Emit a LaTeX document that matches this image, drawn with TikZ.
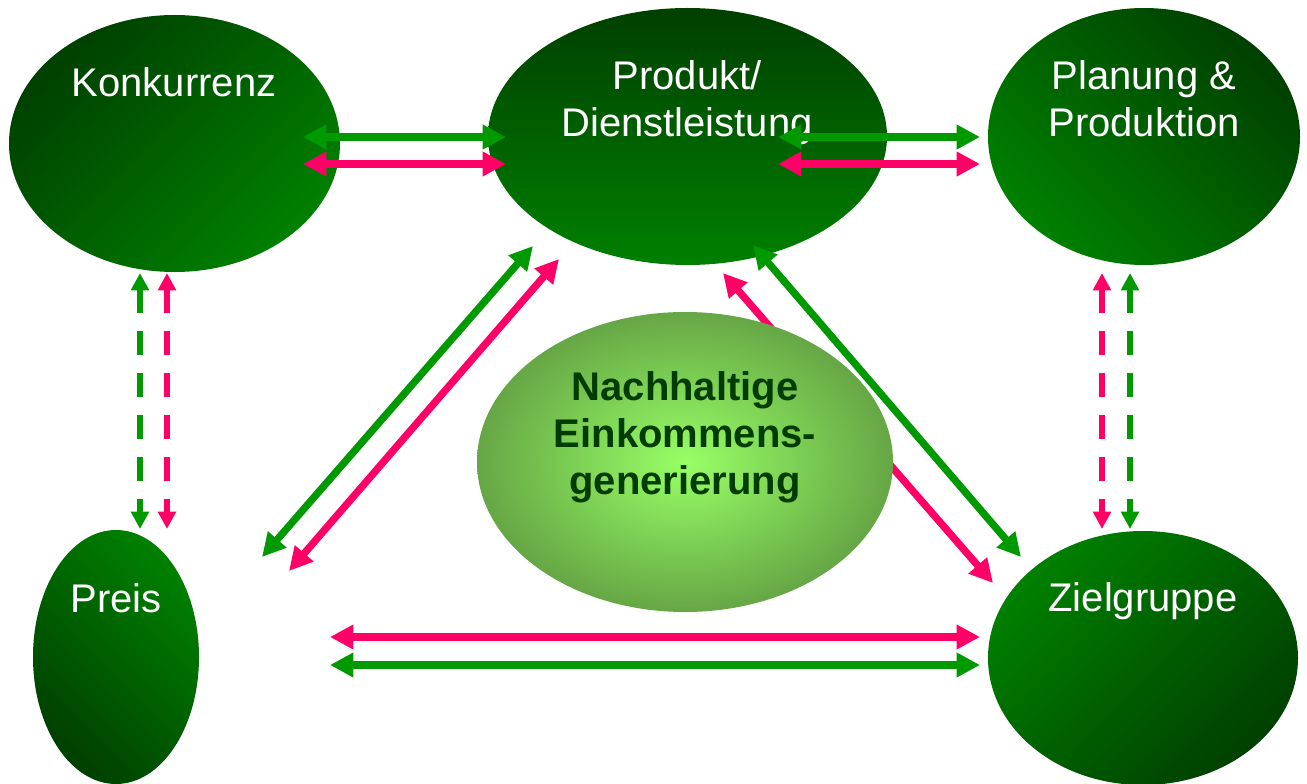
\documentclass[tikz,border=0pt]{standalone}
\usepackage{fontspec}
\setmainfont{Liberation Sans}
\usetikzlibrary{arrows.meta,shapes.geometric}
\definecolor{arrgreen}{RGB}{0,153,0}
\definecolor{arrpink}{RGB}{255,0,102}
\definecolor{darkleaf}{RGB}{0,64,0}
\definecolor{lightleaf}{RGB}{0,128,0}
\definecolor{coreinner}{RGB}{152,255,102}
\definecolor{coreouter}{RGB}{100,163,68}
\definecolor{coretext}{RGB}{0,60,0}
\pgfdeclareradialshading{coreshade}{\pgfpoint{0bp}{0bp}}{color(0bp)=(coreinner); color(26bp)=(coreouter); color(50bp)=(coreouter)}
\tikzset{
  field/.style={ellipse, inner sep=0pt, top color=darkleaf, bottom color=lightleaf},
  lbl/.style={text=white, font=\fontsize{30}{35.25}\selectfont, align=center, anchor=base, inner sep=0pt},
  twoway/.style={line width=5.5pt, {Triangle[width=17.5pt,length=17.5pt]}-{Triangle[width=17.5pt,length=17.5pt]}},
  twowaydash/.style={line width=4.5pt, dash pattern=on 18pt off 13.5pt, {Triangle[width=13pt,length=13pt]}-{Triangle[width=13pt,length=13pt]}}
}
\begin{document}
\begin{tikzpicture}[x=0.75pt,y=-0.75pt]
  \useasboundingbox (0,0) rectangle (1307,784);
  \node[field, minimum width=248.25pt, minimum height=192.75pt, shading angle=45] (konk) at (174.5,143.5) {};
  \node[field, minimum width=299.25pt, minimum height=192.75pt] (prod) at (687.5,136.5) {};
  \node[field, minimum width=234pt, minimum height=192.75pt, shading angle=-45] (plan) at (1144,136.5) {};
  \node[field, minimum width=124.5pt, minimum height=190.5pt, shading angle=135] (preis) at (116,657) {};
  \node[field, minimum width=232.5pt, minimum height=190.5pt, shading angle=-135] (ziel) at (1143,658) {};
  \node[lbl] (konktxt) at (174,97) {Konkurrenz};
  \node[lbl] (prodtxt) at (687,137) {Produkt/\\Dienstleistung};
  \node[lbl] (plantxt) at (1144,137) {Planung \&\\Produktion};
  \node[lbl] (preistxt) at (116,612) {Preis};
  \node[lbl] (zieltxt) at (1143,611) {Zielgruppe};
  \coordinate (pzp1) at (723,273);
  \coordinate (pzp2) at (993,583);
  \draw[twoway, arrpink] (pzp1) -- (pzp2);
  \node[ellipse, inner sep=0pt, shading=coreshade, minimum width=312pt, minimum height=225pt] (core) at (685,462) {};
  \node[lbl, text=coretext, font=\bfseries\fontsize{30}{35.25}\selectfont] (coretxt) at (685,494) {Nachhaltige\\Einkommens-\\generierung};
  \coordinate (kpg1) at (303,137);
  \coordinate (kpg2) at (506,137);
  \coordinate (kpp1) at (303,164);
  \coordinate (kpp2) at (506,164);
  \coordinate (ppg1) at (778,137);
  \coordinate (ppg2) at (980,137);
  \coordinate (ppp1) at (778,164);
  \coordinate (ppp2) at (980,164);
  \coordinate (kxg1) at (140,273);
  \coordinate (kxg2) at (140,529);
  \coordinate (kxp1) at (167,273);
  \coordinate (kxp2) at (167,529);
  \coordinate (pzdp1) at (1102,273);
  \coordinate (pzdp2) at (1102,529);
  \coordinate (pzdg1) at (1130,273);
  \coordinate (pzdg2) at (1130,529);
  \coordinate (xpg1) at (262,557);
  \coordinate (xpg2) at (533,246);
  \coordinate (xpp1) at (289,571);
  \coordinate (xpp2) at (559,259);
  \coordinate (pzg1) at (753,245);
  \coordinate (pzg2) at (1021,557);
  \coordinate (xzp1) at (330,637);
  \coordinate (xzp2) at (980,637);
  \coordinate (xzg1) at (330,665);
  \coordinate (xzg2) at (980,665);
  \begin{scope}[twoway]
    \draw[arrgreen] (kpg1) -- (kpg2);
    \draw[arrpink] (kpp1) -- (kpp2);
    \draw[arrgreen] (ppg1) -- (ppg2);
    \draw[arrpink] (ppp1) -- (ppp2);
    \draw[arrgreen] (xpg1) -- (xpg2);
    \draw[arrpink] (xpp1) -- (xpp2);
    \draw[arrgreen] (pzg1) -- (pzg2);
    \draw[arrpink] (xzp1) -- (xzp2);
    \draw[arrgreen] (xzg1) -- (xzg2);
  \end{scope}
  \begin{scope}[twowaydash]
    \draw[arrgreen] (kxg1) -- (kxg2);
    \draw[arrpink] (kxp1) -- (kxp2);
    \draw[arrpink] (pzdp1) -- (pzdp2);
    \draw[arrgreen] (pzdg1) -- (pzdg2);
  \end{scope}
\end{tikzpicture}
\end{document}
